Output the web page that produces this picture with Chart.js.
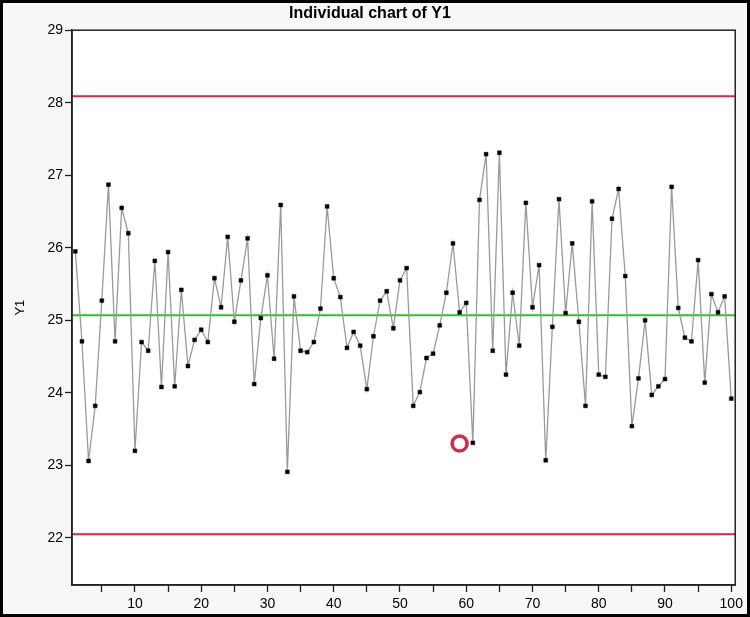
<!DOCTYPE html>
<html>
<head>
<meta charset="utf-8">
<script src="https://cdn.jsdelivr.net/npm/chart.js@4"></script>
<style>
  html, body { margin: 0; padding: 0; background: #fff; }
  #wrap {
    width: 750px; height: 617px; box-sizing: border-box;
    border: 3px solid #000; background: #f7f7f7;
  }
  canvas { display: block; }
</style>
</head>
<body>
<div id="wrap"><canvas id="grafico" width="744" height="611"></canvas></div>
<script>
// observações Y1 (1..100)
const valoresY1 = [
  25.95, 24.71, 23.06, 23.82, 25.27, 26.87, 24.71, 26.55, 26.20, 23.20,
  24.70, 24.58, 25.82, 24.08, 25.94, 24.09, 25.42, 24.37, 24.73, 24.87,
  24.70, 25.58, 25.18, 26.15, 24.98, 25.55, 26.13, 24.12, 25.03, 25.62,
  24.47, 26.59, 22.91, 25.33, 24.58, 24.56, 24.70, 25.16, 26.57, 25.58,
  25.32, 24.62, 24.84, 24.65, 24.05, 24.78, 25.27, 25.40, 24.89, 25.55,
  25.72, 23.82, 24.01, 24.48, 24.54, 24.93, 25.38, 26.06, 25.11, 25.24,
  23.31, 26.66, 27.29, 24.58, 27.31, 24.25, 25.38, 24.65, 26.62, 25.18,
  25.76, 23.07, 24.91, 26.67, 25.10, 26.06, 24.98, 23.82, 26.64, 24.25,
  24.22, 26.40, 26.81, 25.61, 23.54, 24.20, 25.00, 23.97, 24.09, 24.19,
  26.84, 25.17, 24.76, 24.71, 25.83, 24.14, 25.36, 25.11, 25.33, 23.92
];
// limites de controle
const LSC = 28.09;
const LC = 25.07;
const LIC = 22.05;
// ponto marcado (círculo vermelho)
const marcado = [{ x: 59, y: 23.30 }];
// ticks
const xTicks = [5,10,15,20,25,30,35,40,45,50,55,60,65,70,75,80,85,90,95,100];
const xRotulos = [10,20,30,40,50,60,70,80,90,100];
const yTicks = [22,23,24,25,26,27,28,29];

const X_MIN = 0.5, X_MAX = 100.6;
const fonte = "'Liberation Sans Narrow', 'Liberation Sans', Arial, sans-serif";

const pontos = valoresY1.map((v, i) => ({ x: i + 1, y: v }));
const linha = (y) => [{ x: X_MIN, y: y }, { x: X_MAX, y: y }];

// fundo branco e moldura da área do gráfico
const moldura = {
  id: 'moldura',
  beforeDraw(chart) {
    const a = chart.chartArea, ctx = chart.ctx;
    ctx.save();
    ctx.fillStyle = '#ffffff';
    ctx.fillRect(a.left, a.top, a.right - a.left, a.bottom - a.top);
    ctx.restore();
  },
  afterDraw(chart) {
    const a = chart.chartArea, ctx = chart.ctx;
    ctx.save();
    ctx.strokeStyle = '#222';
    ctx.lineWidth = 1.5;
    ctx.strokeRect(a.left, a.top, a.right - a.left, a.bottom - a.top);
    ctx.restore();
  }
};

const ctx = document.getElementById('grafico').getContext('2d');
new Chart(ctx, {
  type: 'scatter',
  data: {
    datasets: [
      {
        data: linha(LSC), showLine: true, borderColor: '#e3203f', borderWidth: 2,
        pointRadius: 0, order: 3
      },
      {
        data: linha(LIC), showLine: true, borderColor: '#e3203f', borderWidth: 2,
        pointRadius: 0, order: 3
      },
      {
        data: linha(LC), showLine: true, borderColor: '#2fbf2f', borderWidth: 2,
        pointRadius: 0, order: 3
      },
      {
        data: pontos, showLine: true, borderColor: '#9a9a9a', borderWidth: 1.3,
        pointStyle: 'rect', pointRadius: 2.7, pointBackgroundColor: '#000',
        pointBorderColor: '#000', pointBorderWidth: 0.5, order: 2
      },
      {
        data: marcado, pointStyle: 'circle', pointRadius: 7.5,
        pointBackgroundColor: '#ffffff', pointBorderColor: '#d62a4b',
        pointBorderWidth: 3.5, order: 1
      }
    ]
  },
  options: {
    responsive: false,
    animation: false,
    layout: { padding: { left: 0, right: 10, top: 0, bottom: 0 } },
    plugins: {
      legend: { display: false },
      tooltip: { enabled: false },
      title: {
        display: true,
        text: 'Individual chart of Y1',
        color: '#000',
        font: { family: fonte, size: 16, weight: 'bold' },
        padding: { top: 1, bottom: 7 }
      }
    },
    scales: {
      x: {
        type: 'linear',
        min: X_MIN,
        max: X_MAX,
        afterBuildTicks: (s) => { s.ticks = xTicks.map(v => ({ value: v })); },
        afterFit: (s) => { s.height = 29; },
        ticks: {
          autoSkip: false,
          maxRotation: 0,
          padding: 4,
          color: '#000',
          font: { family: fonte, size: 14 },
          callback: (v) => xRotulos.includes(v) ? String(v) : ''
        },
        grid: { drawOnChartArea: false, tickLength: 7, color: '#222', tickWidth: 1.3 },
        border: { color: '#222', width: 1.5 }
      },
      y: {
        min: 21.35,
        max: 29,
        afterBuildTicks: (s) => { s.ticks = yTicks.map(v => ({ value: v })); },
        afterFit: (s) => { s.width = 69; },
        ticks: {
          padding: 2,
          color: '#000',
          font: { family: fonte, size: 14 }
        },
        grid: { drawOnChartArea: false, tickLength: 7, color: '#222', tickWidth: 1.3 },
        border: { color: '#222', width: 1.5 },
        title: {
          display: true,
          text: 'Y1',
          color: '#000',
          font: { family: fonte, size: 13 },
          padding: { top: 10, bottom: 0 }
        }
      }
    }
  },
  plugins: [moldura]
});
</script>
</body>
</html>
